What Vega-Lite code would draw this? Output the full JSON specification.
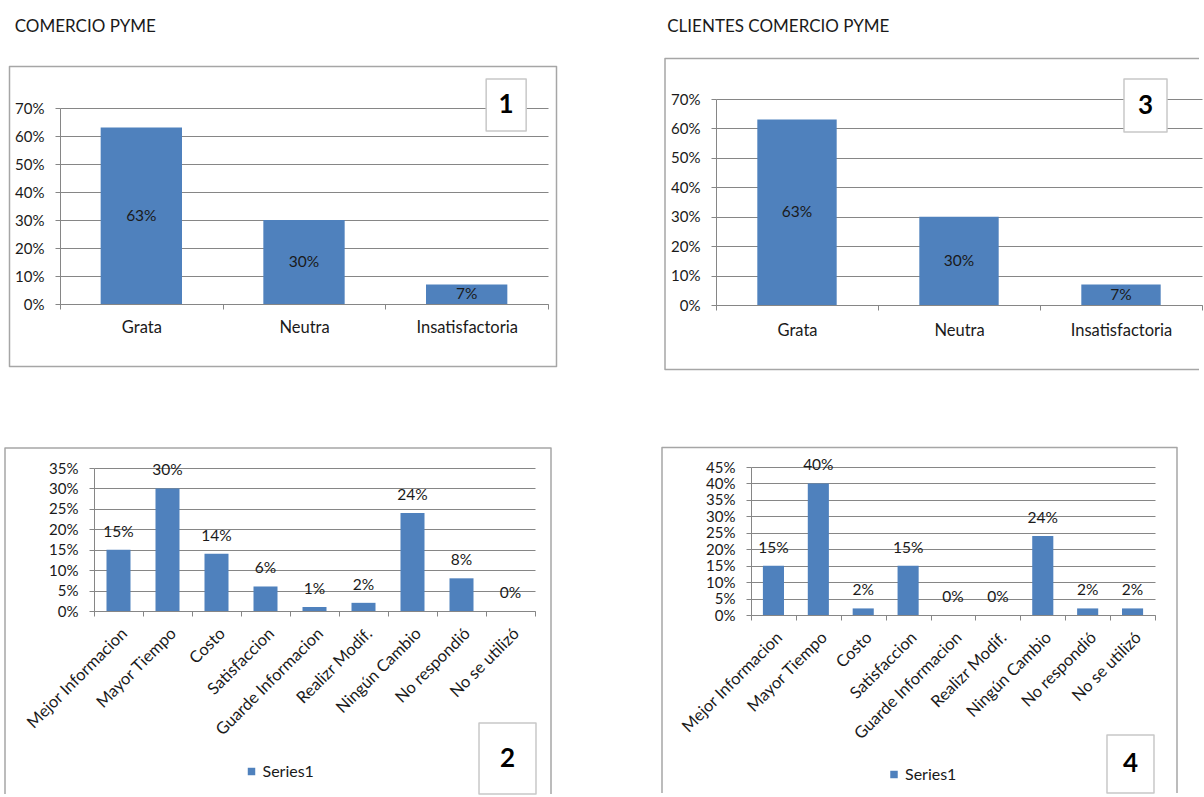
{
  "$schema": "https://vega.github.io/schema/vega-lite/v6.json",
  "padding": {"left": 4, "top": 18, "right": 0, "bottom": 0},
  "background": "white",
  "datasets": {
    "comercio": [
      {"cat": "Grata", "pct": 0.63},
      {"cat": "Neutra", "pct": 0.30},
      {"cat": "Insatisfactoria", "pct": 0.07}
    ],
    "clientes": [
      {"cat": "Grata", "pct": 0.63},
      {"cat": "Neutra", "pct": 0.30},
      {"cat": "Insatisfactoria", "pct": 0.07}
    ],
    "comercio_cambios": [
      {"cat": "Mejor Informacion", "pct": 0.15, "series": "Series1"},
      {"cat": "Mayor Tiempo", "pct": 0.30, "series": "Series1"},
      {"cat": "Costo", "pct": 0.14, "series": "Series1"},
      {"cat": "Satisfaccion", "pct": 0.06, "series": "Series1"},
      {"cat": "Guarde Informacion", "pct": 0.01, "series": "Series1"},
      {"cat": "Realizr Modif.", "pct": 0.02, "series": "Series1"},
      {"cat": "Ningún Cambio", "pct": 0.24, "series": "Series1"},
      {"cat": "No respondió", "pct": 0.08, "series": "Series1"},
      {"cat": "No se utilizó", "pct": 0.00, "series": "Series1"}
    ],
    "clientes_cambios": [
      {"cat": "Mejor Informacion", "pct": 0.15, "series": "Series1"},
      {"cat": "Mayor Tiempo", "pct": 0.40, "series": "Series1"},
      {"cat": "Costo", "pct": 0.02, "series": "Series1"},
      {"cat": "Satisfaccion", "pct": 0.15, "series": "Series1"},
      {"cat": "Guarde Informacion", "pct": 0.00, "series": "Series1"},
      {"cat": "Realizr Modif.", "pct": 0.00, "series": "Series1"},
      {"cat": "Ningún Cambio", "pct": 0.24, "series": "Series1"},
      {"cat": "No respondió", "pct": 0.02, "series": "Series1"},
      {"cat": "No se utilizó", "pct": 0.02, "series": "Series1"}
    ]
  },
  "config": {
    "font": "Lato",
    "view": {"stroke": null},
    "axis": {
      "labelFont": "Lato", "labelFontSize": 15, "labelColor": "#1a1a1a",
      "domainColor": "#868686", "tickColor": "#868686", "gridColor": "#868686",
      "gridOpacity": 1, "title": null, "tickSize": 5, "labelOverlap": false
    },
    "title": {"font": "Lato", "fontSize": 17, "fontWeight": "normal", "color": "#1a1a1a", "anchor": "start", "frame": "bounds"},
    "text": {"font": "Lato", "fontSize": 15.5, "color": "#1a1a1a"}
  },
  "resolve": {"scale": {"color": "independent"}, "legend": {"color": "independent"}},
  "columns": 2,
  "spacing": 103,
  "concat": [
    {
      "columns": 1,
      "spacing": 79,
      "resolve": {"scale": {"color": "independent"}, "legend": {"color": "independent"}},
      "concat": [
        {
          "title": {"text": "COMERCIO PYME", "offset": 29.75, "dx": 6},
          "width": 488, "height": 205,
          "data": {"name": "comercio"},
          "resolve": {"scale": {"y": "independent"}},
          "layer": [
            {
              "mark": {"type": "bar", "color": "#4f81bd", "width": {"band": 0.5}},
              "encoding": {
                "x": {"field": "cat", "type": "nominal", "scale": {"domain": ["Grata", "Neutra", "Insatisfactoria"], "paddingInner": 0, "paddingOuter": 0}, "axis": {"labelAngle": 0, "tickBand": "extent", "labelPadding": 10, "grid": false, "labelFontSize": 16.5}},
                "y": {"field": "pct", "type": "quantitative", "scale": {"domain": [0, 0.7], "nice": false, "range": [205, 9]}, "axis": {"values": [0, 0.1, 0.2, 0.3, 0.4, 0.5, 0.6, 0.7], "format": ".0%", "labelPadding": 11}}
              }
            },
            {
              "mark": {"type": "text", "baseline": "middle"},
              "encoding": {
                "x": {"field": "cat", "type": "nominal"},
                "y": {"field": "pct", "type": "quantitative", "scale": {"domain": [0, 1.4], "nice": false, "range": [205, 9]}, "axis": null},
                "text": {"field": "pct", "type": "quantitative", "format": ".0%"}
              }
            },
            {
              "data": {"values": [{"frame": "chart 1"}]},
              "mark": {"type": "point", "shape": "M-294.5,-237.5H252.5V62.5H-294.5Z", "size": 4, "filled": false, "stroke": "#a6a6a6", "strokeWidth": 1.5, "strokeJoin": "round", "opacity": 1},
              "encoding": {
                "x": {"datum": "Neutra"},
                "y": {"datum": 0, "type": "quantitative", "scale": {"domain": [0, 0.7], "nice": false, "range": [205, 9]}, "axis": null}
              }
            },
            {
              "data": {"values": [{"num": "1"}]},
              "mark": {"type": "point", "shape": "M0.75,-1.115H2.288V0.885H0.75Z", "size": 2704, "filled": true, "fill": "#ffffff", "stroke": "#c8c8c8", "strokeWidth": 1.5, "strokeJoin": "round", "opacity": 1},
              "encoding": {
                "x": {"datum": "Insatisfactoria"},
                "y": {"datum": 0.7, "type": "quantitative", "scale": {"domain": [0, 0.7], "nice": false, "range": [205, 9]}, "axis": null}
              }
            },
            {
              "data": {"values": [{"num": "1"}]},
              "mark": {"type": "text", "fontSize": 26, "fontWeight": "bold", "dx": 39.5, "dy": -3, "baseline": "middle", "color": "#000000"},
              "encoding": {
                "x": {"datum": "Insatisfactoria"},
                "y": {"datum": 0.7, "type": "quantitative", "scale": {"domain": [0, 0.7], "nice": false, "range": [205, 9]}, "axis": null},
                "text": {"field": "num"}
              }
            }
          ]
        },
        {
          "width": 475, "height": 143,
          "data": {"name": "comercio_cambios"},
          "encoding": {
            "x": {"field": "cat", "type": "nominal", "scale": {"domain": ["Mejor Informacion", "Mayor Tiempo", "Costo", "Satisfaccion", "Guarde Informacion", "Realizr Modif.", "Ningún Cambio", "No respondió", "No se utilizó"], "paddingInner": 0, "paddingOuter": 0, "range": [34, 475]}, "axis": {"labelAngle": -45, "tickBand": "extent", "labelPadding": 9, "grid": false, "labelFontSize": 16.5}},
            "y": {"field": "pct", "type": "quantitative", "scale": {"domain": [0, 0.35], "nice": false}, "axis": {"values": [0, 0.05, 0.1, 0.15, 0.2, 0.25, 0.3, 0.35], "format": ".0%", "labelPadding": 11, "offset": -34}}
          },
          "layer": [
            {
              "mark": {"type": "bar", "width": {"band": 0.49}},
              "encoding": {
                "color": {"field": "series", "type": "nominal", "scale": {"range": ["#4f81bd"]}, "legend": {"orient": "none", "legendX": 183.5, "legendY": 295.5, "title": null, "symbolType": "square", "symbolSize": 56, "symbolStrokeWidth": 0, "labelFontSize": 16, "labelFont": "Lato", "labelColor": "#1a1a1a", "padding": 0, "labelOffset": 3}}
              }
            },
            {
              "mark": {"type": "text", "baseline": "middle", "dy": -18},
              "encoding": {
                "text": {"field": "pct", "type": "quantitative", "format": ".0%"}
              }
            },
            {
              "transform": [{"filter": {"field": "cat", "equal": "No se utilizó"}}],
              "mark": {"type": "point", "shape": "M-505.5,183V-163H40.5V183", "size": 4, "filled": false, "stroke": "#a6a6a6", "strokeWidth": 1.5, "strokeJoin": "round", "opacity": 1}
            },
            {
              "transform": [{"filter": {"field": "cat", "equal": "No se utilizó"}}],
              "mark": {"type": "point", "shape": "M-0.887,3.155H0.718V5.155H-0.887Z", "size": 5041, "filled": true, "fill": "#ffffff", "stroke": "#c8c8c8", "strokeWidth": 1.5, "strokeJoin": "round", "opacity": 1}
            },
            {
              "transform": [{"filter": {"field": "cat", "equal": "No se utilizó"}}],
              "mark": {"type": "text", "text": "2", "fontSize": 26, "fontWeight": "bold", "dx": -3, "dy": 147.5, "baseline": "middle", "color": "#000000"}
            }
          ]
        }
      ]
    },
    {
      "columns": 1,
      "spacing": 75,
      "resolve": {"scale": {"color": "independent"}, "legend": {"color": "independent"}},
      "concat": [
        {
          "title": {"text": "CLIENTES COMERCIO PYME", "offset": 21.75, "dx": 3},
          "width": 486, "height": 206,
          "data": {"name": "clientes"},
          "resolve": {"scale": {"y": "independent"}},
          "layer": [
            {
              "mark": {"type": "bar", "color": "#4f81bd", "width": {"band": 0.49}},
              "encoding": {
                "x": {"field": "cat", "type": "nominal", "scale": {"domain": ["Grata", "Neutra", "Insatisfactoria"], "paddingInner": 0, "paddingOuter": 0}, "axis": {"labelAngle": 0, "tickBand": "extent", "labelPadding": 12, "grid": false, "labelFontSize": 16.5}},
                "y": {"field": "pct", "type": "quantitative", "scale": {"domain": [0, 0.7], "nice": false}, "axis": {"values": [0, 0.1, 0.2, 0.3, 0.4, 0.5, 0.6, 0.7], "format": ".0%", "labelPadding": 11}}
              }
            },
            {
              "mark": {"type": "text", "baseline": "middle"},
              "encoding": {
                "x": {"field": "cat", "type": "nominal"},
                "y": {"field": "pct", "type": "quantitative", "scale": {"domain": [0, 1.4], "nice": false}, "axis": null},
                "text": {"field": "pct", "type": "quantitative", "format": ".0%"}
              }
            },
            {
              "data": {"values": [{"frame": "chart 3"}]},
              "mark": {"type": "point", "shape": "M240,-246.5H-294V64.5H240", "size": 4, "filled": false, "stroke": "#a6a6a6", "strokeWidth": 1.5, "strokeJoin": "round", "opacity": 1},
              "encoding": {
                "x": {"datum": "Neutra"},
                "y": {"datum": 0, "type": "quantitative", "scale": {"domain": [0, 0.7], "nice": false}, "axis": null}
              }
            },
            {
              "data": {"values": [{"num": "3"}]},
              "mark": {"type": "point", "shape": "M0.113,-0.755H1.736V1.245H0.113Z", "size": 2809, "filled": true, "fill": "#ffffff", "stroke": "#c8c8c8", "strokeWidth": 1.5, "strokeJoin": "round", "opacity": 1},
              "encoding": {
                "x": {"datum": "Insatisfactoria"},
                "y": {"datum": 0.7, "type": "quantitative", "scale": {"domain": [0, 0.7], "nice": false}, "axis": null}
              }
            },
            {
              "data": {"values": [{"num": "3"}]},
              "mark": {"type": "text", "fontSize": 26, "fontWeight": "bold", "dx": 24.5, "dy": 6.5, "baseline": "middle", "color": "#000000"},
              "encoding": {
                "x": {"datum": "Insatisfactoria"},
                "y": {"datum": 0.7, "type": "quantitative", "scale": {"domain": [0, 0.7], "nice": false}, "axis": null},
                "text": {"field": "num"}
              }
            }
          ]
        },
        {
          "width": 439, "height": 148,
          "data": {"name": "clientes_cambios"},
          "encoding": {
            "x": {"field": "cat", "type": "nominal", "scale": {"domain": ["Mejor Informacion", "Mayor Tiempo", "Costo", "Satisfaccion", "Guarde Informacion", "Realizr Modif.", "Ningún Cambio", "No respondió", "No se utilizó"], "paddingInner": 0, "paddingOuter": 0, "range": [35, 439]}, "axis": {"labelAngle": -45, "tickBand": "extent", "labelPadding": 9, "grid": false, "labelFontSize": 16.5}},
            "y": {"field": "pct", "type": "quantitative", "scale": {"domain": [0, 0.45], "nice": false}, "axis": {"values": [0, 0.05, 0.1, 0.15, 0.2, 0.25, 0.3, 0.35, 0.4, 0.45], "format": ".0%", "labelPadding": 11, "offset": -35}}
          },
          "layer": [
            {
              "mark": {"type": "bar", "width": {"band": 0.47}},
              "encoding": {
                "color": {"field": "series", "type": "nominal", "scale": {"range": ["#4f81bd"]}, "legend": {"orient": "none", "legendX": 170, "legendY": 299.5, "title": null, "symbolType": "square", "symbolSize": 56, "symbolStrokeWidth": 0, "labelFontSize": 16, "labelFont": "Lato", "labelColor": "#1a1a1a", "padding": 0, "labelOffset": 3}}
              }
            },
            {
              "mark": {"type": "text", "baseline": "middle", "dy": -18},
              "encoding": {
                "text": {"field": "pct", "type": "quantitative", "format": ".0%"}
              }
            },
            {
              "transform": [{"filter": {"field": "cat", "equal": "Guarde Informacion"}}],
              "mark": {"type": "point", "shape": "M-291,178V-167.5H224V178", "size": 4, "filled": false, "stroke": "#a6a6a6", "strokeWidth": 1.5, "strokeJoin": "round", "opacity": 1}
            },
            {
              "transform": [{"filter": {"field": "cat", "equal": "Guarde Informacion"}}],
              "mark": {"type": "point", "shape": "M5.310,4.138H6.931V6.138H5.310Z", "size": 3364, "filled": true, "fill": "#ffffff", "stroke": "#c8c8c8", "strokeWidth": 1.5, "strokeJoin": "round", "opacity": 1}
            },
            {
              "transform": [{"filter": {"field": "cat", "equal": "Guarde Informacion"}}],
              "mark": {"type": "text", "text": "4", "fontSize": 26, "fontWeight": "bold", "dx": 177.5, "dy": 149, "baseline": "middle", "color": "#000000"}
            }
          ]
        }
      ]
    }
  ]
}
